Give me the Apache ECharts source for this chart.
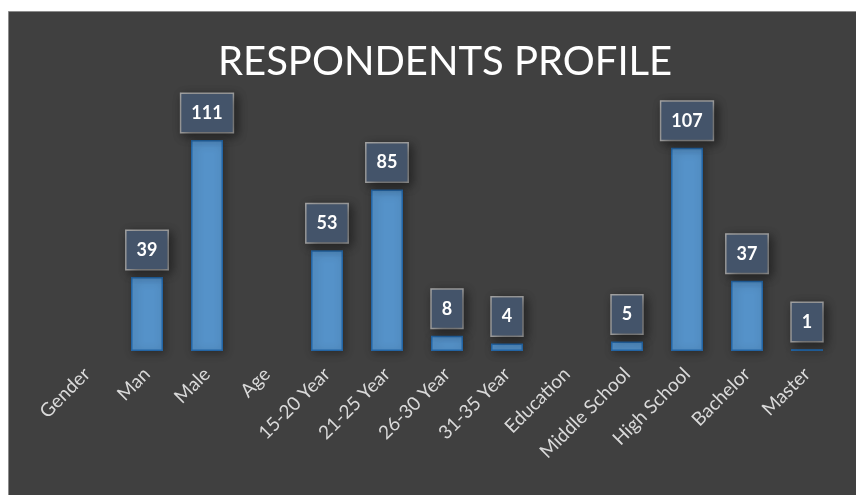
<!DOCTYPE html>
<html>
<head>
<meta charset="utf-8">
<script src="https://cdn.jsdelivr.net/npm/echarts@6/dist/echarts.min.js"></script>
<style>
html,body{margin:0;padding:0;background:#ffffff;}
#chart{width:856px;height:495px;}
</style>
</head>
<body>
<div id="chart"></div>
<script>
var categories = ['Gender','Man','Male','Age','15-20 Year','21-25 Year','26-30 Year','31-35 Year','Education','Middle School','High School','Bachelor','Master'];
var values = ['-',39,111,'-',53,85,8,4,'-',5,107,37,1];
var titleText = 'RESPONDENTS PROFILE';

var chart = echarts.init(document.getElementById('chart'), null, {renderer:'canvas'});
chart.setOption({
  backgroundColor: '#ffffff',
  animation: false,
  graphic: [{
    type: 'rect', z: -10, silent: true,
    shape: {x: 8.5, y: 11.5, width: 860, height: 500},
    style: {fill: '#404040', stroke: '#8c8c8c', lineWidth: 1}
  }],
  title: {
    text: titleText, left: 213, top: 37,
    textStyle: {color: '#ffffff', fontFamily: 'Lato', fontWeight: 'normal', fontSize: 40}
  },
  grid: {left: 57, right: 19, top: 123, bottom: 144},
  xAxis: {
    type: 'category', data: categories,
    axisLine: {show: false}, axisTick: {show: false},
    axisLabel: {interval: 0, rotate: 45, margin: 20, color: '#d9d9d9', fontFamily: 'Lato', fontSize: 19}
  },
  yAxis: {type: 'value', min: 0, max: 120, show: false, splitLine: {show: false}},
  series: [{
    type: 'bar', data: values, barWidth: 32,
    itemStyle: {color: '#5592c9', borderColor: '#2364a3', borderWidth: 1.5,
      shadowBlur: 8, shadowColor: 'rgba(0,0,0,0.35)', shadowOffsetX: 2, shadowOffsetY: 2},
    label: {
      show: true, position: 'top', distance: 8,
      color: '#ffffff', fontFamily: 'Lato', fontWeight: 'bold', fontSize: 18, lineHeight: 18,
      backgroundColor: '#44546a', borderColor: '#a6a6a6', borderWidth: 1.5,
      padding: [10, 10],
      shadowBlur: 10, shadowColor: 'rgba(0,0,0,0.45)', shadowOffsetX: 3, shadowOffsetY: 3
    }
  }]
});
</script>
</body>
</html>
